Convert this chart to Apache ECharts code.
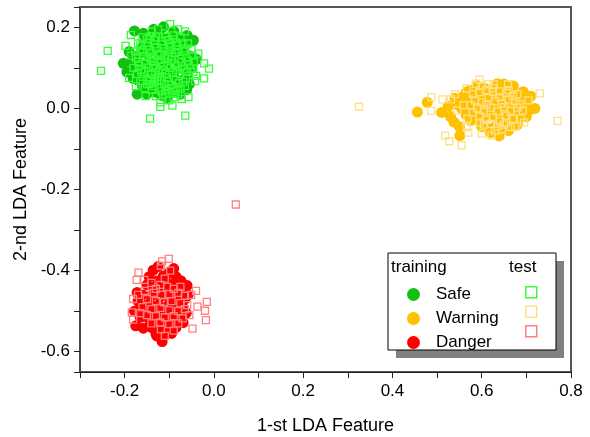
<!DOCTYPE html>
<html><head><meta charset="utf-8">
<script src="https://cdn.jsdelivr.net/npm/echarts@6/dist/echarts.min.js"></script>
<style>html,body{margin:0;padding:0;background:#fff}#c{width:590px;height:437px}</style>
</head><body><div id="c"></div>
<script>
// ---- data ----
const seriesNames = ['Safe', 'Warning', 'Danger'];
const xTickLabels = ['-0.2', '0.0', '0.2', '0.4', '0.6', '0.8'];
const yTickLabels = ['-0.6', '-0.4', '-0.2', '0.0', '0.2'];

const safeTrain = [[-0.178,0.191],[-0.203,0.111],[-0.181,0.074],[-0.172,0.035],[-0.117,0.032],[-0.061,0.046],[-0.039,0.121],[-0.046,0.168],[-0.113,0.201],[-0.158,0.185],
[-0.14,0.17],[-0.12,0.18],[-0.10,0.175],[-0.08,0.17],[-0.065,0.155],[-0.16,0.15],[-0.145,0.155],[-0.125,0.16],[-0.105,0.155],[-0.085,0.15],
[-0.17,0.13],[-0.15,0.135],[-0.13,0.14],[-0.11,0.138],[-0.09,0.132],[-0.07,0.135],[-0.055,0.13],[-0.185,0.115],[-0.165,0.11],[-0.145,0.115],
[-0.125,0.12],[-0.105,0.112],[-0.085,0.118],[-0.065,0.11],[-0.05,0.1],[-0.18,0.095],[-0.16,0.09],[-0.14,0.095],[-0.12,0.1],[-0.1,0.092],
[-0.08,0.098],[-0.06,0.085],[-0.17,0.07],[-0.15,0.075],[-0.13,0.08],[-0.11,0.072],[-0.09,0.078],[-0.07,0.07],[-0.16,0.055],[-0.14,0.05],
[-0.12,0.058],[-0.1,0.052],[-0.08,0.055],[-0.13,0.04],[-0.095,0.04],[-0.075,0.035],[-0.155,0.165],[-0.09,0.19],[-0.135,0.195],[-0.06,0.18],
[-0.19,0.14],[-0.195,0.09],[-0.055,0.06],[-0.15,0.035],[-0.105,0.025]];

const safeTest = [[-0.238,0.142],[-0.253,0.0925],[-0.143,-0.025],[-0.064,-0.018],[-0.120,0.0035],[-0.093,0.007],[-0.098,0.208],[-0.139,0.189],[-0.022,0.111],[-0.011,0.098],
[-0.022,0.074],[-0.042,0.067],[-0.057,0.028],[-0.072,0.023],[-0.153,0.030],[-0.175,0.055],[-0.198,0.154],[-0.186,0.181],
[-0.17,0.16],[-0.15,0.17],[-0.13,0.175],[-0.11,0.185],[-0.09,0.18],[-0.075,0.175],[-0.16,0.14],[-0.145,0.145],[-0.128,0.15],[-0.112,0.148],
[-0.096,0.152],[-0.08,0.145],[-0.064,0.148],[-0.175,0.125],[-0.158,0.128],[-0.142,0.122],[-0.126,0.131],[-0.11,0.125],[-0.094,0.128],[-0.078,0.122],
[-0.062,0.125],[-0.048,0.13],[-0.168,0.105],[-0.152,0.11],[-0.136,0.104],[-0.12,0.112],[-0.104,0.106],[-0.088,0.11],[-0.072,0.104],[-0.056,0.108],
[-0.172,0.085],[-0.156,0.09],[-0.14,0.084],[-0.124,0.092],[-0.108,0.086],[-0.092,0.09],[-0.076,0.084],[-0.06,0.09],[-0.165,0.068],[-0.149,0.07],
[-0.133,0.064],[-0.117,0.07],[-0.101,0.066],[-0.085,0.07],[-0.069,0.066],[-0.155,0.05],[-0.139,0.046],[-0.123,0.052],[-0.107,0.046],[-0.091,0.05],
[-0.075,0.048],[-0.13,0.03],[-0.11,0.035],[-0.09,0.028],[-0.118,0.165],[-0.102,0.168],[-0.086,0.163],[-0.134,0.158],[-0.15,0.155],[-0.07,0.16],
[-0.165,0.145],[-0.05,0.145],[-0.045,0.115],[-0.18,0.1],[-0.046,0.09],[-0.135,0.115],[-0.115,0.095],[-0.095,0.12],[-0.13,0.1],[-0.085,0.095],
[-0.12,0.135],[-0.1,0.14],[-0.14,0.135],[-0.105,0.075],[-0.125,0.078],[-0.145,0.06],[-0.065,0.055],[-0.08,0.035],[-0.1,0.02],[-0.12,0.015],
[-0.16,0.175],[-0.125,0.195],[-0.08,0.195],[-0.065,0.19],[-0.185,0.13],[-0.19,0.075],[-0.035,0.135],[-0.04,0.08],
[-0.165,0.155],[-0.148,0.162],[-0.132,0.168],[-0.116,0.158],[-0.098,0.16],[-0.082,0.156],[-0.068,0.14],[-0.17,0.115],[-0.153,0.118],[-0.137,0.126],
[-0.118,0.12],[-0.103,0.13],[-0.087,0.136],[-0.072,0.115],[-0.058,0.118],[-0.163,0.095],[-0.147,0.1],[-0.131,0.088],[-0.113,0.104],[-0.097,0.1],
[-0.081,0.104],[-0.066,0.096],[-0.052,0.098],[-0.16,0.078],[-0.143,0.074],[-0.127,0.067],[-0.111,0.06],[-0.095,0.058],[-0.079,0.062],[-0.063,0.074],
[-0.15,0.06],[-0.135,0.055],[-0.118,0.042],[-0.1,0.038],[-0.086,0.044],[-0.142,0.178],[-0.108,0.176],[-0.092,0.17],[-0.176,0.14],[-0.058,0.16]];

const warnTrain = [[0.456,-0.009],[0.478,0.015],[0.510,-0.010],[0.538,-0.034],[0.551,-0.067],[0.639,-0.068],[0.719,0.0],[0.693,0.041],[0.671,0.055],[0.635,0.061],[0.545,0.010],
[0.56,0.03],[0.575,0.045],[0.59,0.04],[0.605,0.05],[0.62,0.045],[0.64,0.05],[0.655,0.042],[0.67,0.035],[0.685,0.025],[0.7,0.015],
[0.555,0.0],[0.57,0.015],[0.585,0.02],[0.6,0.025],[0.615,0.02],[0.63,0.03],[0.645,0.025],[0.66,0.02],[0.675,0.01],[0.69,0.005],
[0.565,-0.015],[0.58,-0.005],[0.595,0.0],[0.61,0.005],[0.625,0.01],[0.64,0.0],[0.655,-0.005],[0.67,-0.01],[0.685,-0.015],[0.7,-0.02],
[0.575,-0.03],[0.59,-0.025],[0.605,-0.02],[0.62,-0.015],[0.635,-0.025],[0.65,-0.03],[0.665,-0.035],[0.68,-0.04],[0.6,-0.045],[0.615,-0.05],
[0.63,-0.045],[0.645,-0.05],[0.66,-0.055],[0.62,-0.06],[0.55,-0.045],[0.53,-0.02],[0.525,0.005],[0.54,0.025],[0.705,-0.005],[0.71,0.03],
[0.59,0.055],[0.65,0.06],[0.68,-0.03],[0.565,0.04]];

const warnTest = [[0.325,0.004],[0.730,0.037],[0.770,-0.031],[0.487,0.028],[0.487,-0.006],[0.512,0.022],[0.531,0.022],[0.518,-0.067],[0.527,-0.081],[0.555,-0.091],
[0.595,0.071],[0.587,0.061],[0.566,0.049],[0.600,-0.062],[0.622,-0.067],[0.645,-0.052],[0.665,-0.046],[0.688,-0.025],[0.692,-0.005],[0.659,0.060],
[0.627,0.059],[0.566,-0.046],[0.568,-0.025],[0.559,0.008],
[0.58,0.035],[0.595,0.04],[0.61,0.045],[0.625,0.04],[0.64,0.042],[0.655,0.038],[0.67,0.03],[0.585,0.02],[0.6,0.015],[0.615,0.028],
[0.63,0.018],[0.645,0.012],[0.66,0.022],[0.675,0.018],[0.59,0.0],[0.605,-0.005],[0.62,0.002],[0.635,-0.008],[0.65,0.003],[0.665,-0.006],
[0.68,0.002],[0.595,-0.02],[0.61,-0.028],[0.625,-0.022],[0.64,-0.032],[0.655,-0.018],[0.67,-0.026],[0.605,-0.04],[0.62,-0.038],[0.635,-0.045],
[0.65,-0.04],[0.58,-0.01],[0.575,0.008],[0.6,0.055],[0.615,0.06],[0.64,0.028],[0.655,-0.035],[0.68,0.035],[0.685,0.01],[0.61,0.008],
[0.625,0.05],[0.595,-0.035],[0.63,-0.055],[0.66,0.045],[0.545,-0.005],[0.54,0.035],[0.57,-0.06],[0.705,0.02],[0.695,-0.035],[0.675,-0.045]];

const dangerTrain = [[-0.136,-0.399],[-0.113,-0.413],[-0.172,-0.454],[-0.175,-0.536],[-0.128,-0.561],[-0.116,-0.575],[-0.069,-0.528],[-0.060,-0.437],[-0.074,-0.425],[-0.158,-0.542],
[-0.1,-0.405],[-0.085,-0.415],[-0.125,-0.425],[-0.105,-0.43],[-0.09,-0.435],[-0.15,-0.435],[-0.135,-0.44],[-0.115,-0.445],[-0.095,-0.45],[-0.075,-0.45],
[-0.16,-0.46],[-0.14,-0.462],[-0.12,-0.465],[-0.1,-0.468],[-0.08,-0.465],[-0.065,-0.47],[-0.165,-0.48],[-0.145,-0.482],[-0.125,-0.485],[-0.105,-0.488],
[-0.085,-0.485],[-0.07,-0.49],[-0.155,-0.5],[-0.135,-0.502],[-0.115,-0.505],[-0.095,-0.508],[-0.075,-0.505],[-0.165,-0.515],[-0.145,-0.52],[-0.125,-0.522],
[-0.105,-0.525],[-0.085,-0.52],[-0.14,-0.54],[-0.12,-0.542],[-0.1,-0.545],[-0.085,-0.54],[-0.13,-0.555],[-0.11,-0.558],[-0.095,-0.555],[-0.178,-0.5],
[-0.062,-0.505],[-0.058,-0.46],[-0.17,-0.475],[-0.145,-0.415],[-0.125,-0.39],[-0.09,-0.395]];

const dangerTest = [[-0.101,-0.371],[-0.116,-0.377],[-0.119,-0.388],[-0.169,-0.405],[-0.173,-0.423],[-0.156,-0.423],[-0.098,-0.400],[-0.040,-0.450],[-0.051,-0.460],[-0.016,-0.477],
[-0.020,-0.499],[-0.018,-0.522],[-0.037,-0.489],[-0.048,-0.543],[-0.181,-0.470],[-0.184,-0.503],[-0.181,-0.521],[-0.110,-0.561],[-0.119,-0.545],[0.049,-0.237],
[-0.14,-0.43],[-0.12,-0.435],[-0.105,-0.44],[-0.09,-0.445],[-0.155,-0.45],[-0.135,-0.455],[-0.118,-0.46],[-0.1,-0.458],[-0.08,-0.455],[-0.065,-0.462],
[-0.15,-0.47],[-0.13,-0.475],[-0.112,-0.478],[-0.095,-0.475],[-0.075,-0.48],[-0.16,-0.49],[-0.14,-0.495],[-0.12,-0.492],[-0.1,-0.498],[-0.08,-0.5],
[-0.065,-0.495],[-0.15,-0.51],[-0.13,-0.512],[-0.11,-0.515],[-0.09,-0.512],[-0.07,-0.518],[-0.14,-0.53],[-0.12,-0.528],[-0.1,-0.532],[-0.08,-0.53],
[-0.06,-0.485],[-0.055,-0.51],[-0.17,-0.46],[-0.165,-0.505],[-0.13,-0.445],[-0.11,-0.42],[-0.075,-0.44],[-0.09,-0.548]];

// ---- styling ----
const FONT = "'Liberation Sans', Arial, sans-serif";
const trainColors = ['#12c012', '#ffc000', '#ff0000'];
const testColors = ['#33ff33', '#ffe083', '#ff8080'];
const trainData = [safeTrain, warnTrain, dangerTrain];
const testData = [safeTest, warnTest, dangerTest];

function tickFmt(labels) {
  return function (v) {
    if (Math.abs(v * 10 - Math.round(v * 10)) > 1e-6) return '';
    const s = (Math.round(v * 10) / 10).toFixed(1);
    return labels.indexOf(s) >= 0 ? s : '';
  };
}

const series = [];
seriesNames.forEach((n, i) => {
  series.push({
    name: n, type: 'scatter', data: trainData[i], symbol: 'circle', symbolSize: 11,
    itemStyle: { color: trainColors[i], opacity: 1 }, z: 2, animation: false, silent: true
  });
});
seriesNames.forEach((n, i) => {
  series.push({
    name: n + ' test', type: 'scatter', data: testData[i], symbol: 'rect', symbolSize: 7,
    itemStyle: { color: 'rgba(255,255,255,0)', borderColor: testColors[i], borderWidth: 1.3, opacity: 1 },
    z: 3, animation: false, silent: true
  });
});

const chart = echarts.init(document.getElementById('c'), null, { renderer: 'canvas' });
chart.setOption({
  animation: false,
  backgroundColor: '#ffffff',
  textStyle: { fontFamily: FONT },
  grid: { left: 80, right: 19, top: 7, bottom: 65, show: true, borderColor: '#555', borderWidth: 2, backgroundColor: 'transparent', containLabel: false, outerBoundsMode: 'none' },
  xAxis: {
    type: 'value', min: -0.3, max: 0.8, interval: 0.1,
    name: '1-st LDA Feature', nameLocation: 'middle', nameGap: 45,
    nameTextStyle: { fontSize: 18, color: '#000', fontFamily: FONT },
    axisLine: { show: true, onZero: false, lineStyle: { color: '#222', width: 1 } },
    axisTick: { show: true, inside: false, length: 6, lineStyle: { color: '#222', width: 1 } },
    axisLabel: { fontSize: 17, color: '#000', margin: 11, fontFamily: FONT, formatter: tickFmt(xTickLabels), showMinLabel: true, showMaxLabel: true },
    splitLine: { show: false }
  },
  yAxis: {
    type: 'value', min: -0.65, max: 0.25, splitNumber: 9,
    name: '2-nd LDA Feature', nameLocation: 'middle', nameGap: 47, nameRotate: 90,
    nameTextStyle: { fontSize: 18, color: '#000', fontFamily: FONT },
    axisLine: { show: true, onZero: false, lineStyle: { color: '#444', width: 1.5 } },
    axisTick: { show: true, inside: false, length: 6, lineStyle: { color: '#222', width: 1 } },
    axisLabel: { fontSize: 17, color: '#000', margin: 10, fontFamily: FONT, formatter: tickFmt(yTickLabels) },
    splitLine: { show: false }
  },
  legend: [
    {
      data: seriesNames, orient: 'vertical', left: 402, top: 281, icon: 'circle',
      itemWidth: 13, itemHeight: 13, itemGap: 7, z: 20, selectedMode: false,
      textStyle: { fontSize: 17, color: '#000', fontFamily: FONT, padding: [0, 0, 0, 11] }
    },
    {
      data: seriesNames.map((n, i) => ({ name: n + ' test', itemStyle: { color: 'rgba(255,255,255,0)', borderColor: testColors[i], borderWidth: 1.5 } })),
      orient: 'vertical', left: 520, top: 281, icon: 'rect',
      itemWidth: 11, itemHeight: 11, itemGap: 7, z: 20, selectedMode: false,
      formatter: () => '', textStyle: { fontSize: 17, padding: 0 }
    }
  ],
  graphic: [
    { type: 'rect', shape: { x: 396, y: 261, width: 168, height: 97 }, style: { fill: '#808080' }, z: 10, silent: true },
    { type: 'rect', shape: { x: 388, y: 253, width: 168, height: 97 }, style: { fill: '#fff', stroke: '#000', lineWidth: 1 }, z: 11, silent: true },
    { type: 'text', x: 391, y: 259, style: { text: 'training', font: "17px 'Liberation Sans', Arial, sans-serif", fill: '#000' }, z: 12, silent: true },
    { type: 'text', x: 509, y: 259, style: { text: 'test', font: "17px 'Liberation Sans', Arial, sans-serif", fill: '#000' }, z: 12, silent: true }
  ],
  series: series
});
</script>
</body></html>
